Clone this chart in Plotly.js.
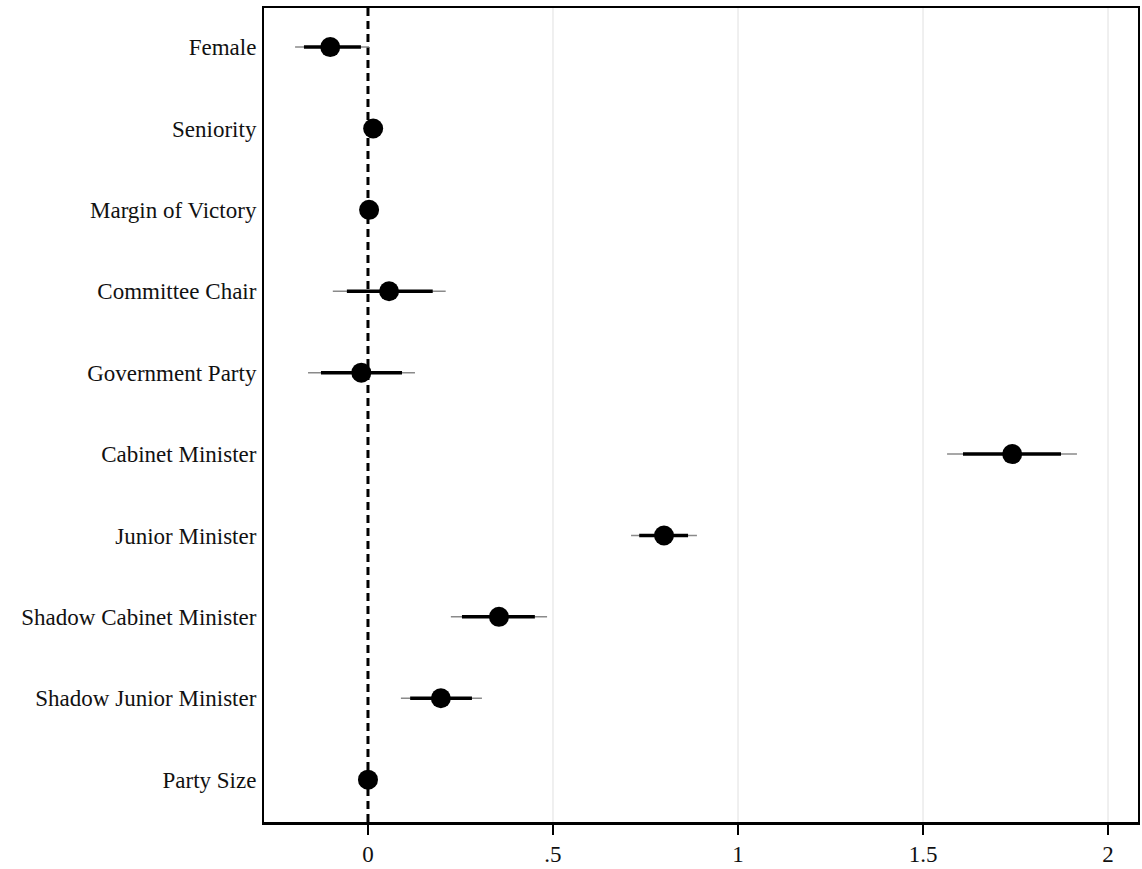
<!DOCTYPE html>
<html>
<head>
<meta charset="utf-8">
<script src="https://cdn.plot.ly/plotly-3.0.1.min.js"></script>
<style>html,body{margin:0;padding:0;background:#fff;}#chart{width:1142px;height:869px;}</style>
</head>
<body>
<div id="chart"></div>
<script>
const categories = ["Female","Seniority","Margin of Victory","Committee Chair","Government Party","Cabinet Minister","Junior Minister","Shadow Cabinet Minister","Shadow Junior Minister","Party Size"];
const estimates = [-0.102, 0.014, 0.003, 0.057, -0.018, 1.741, 0.800, 0.354, 0.197, 0.000];
const lo90 = [-0.173, 0.008, -0.002, -0.057, -0.127, 1.608, 0.733, 0.254, 0.114, -0.004];
const hi90 = [-0.019, 0.020, 0.008, 0.175, 0.092, 1.873, 0.865, 0.451, 0.281, 0.004];
const lo95 = [-0.197, 0.005, -0.004, -0.095, -0.162, 1.565, 0.711, 0.224, 0.089, -0.006];
const hi95 = [0.003, 0.023, 0.010, 0.210, 0.127, 1.916, 0.889, 0.484, 0.308, 0.006];
const xTickVals = [0, 0.5, 1, 1.5, 2];
const xTickText = ["0", ".5", "1", "1.5", "2"];
const gridVals = [0.5, 1, 1.5, 2];
const refValue = 0;

function segs(lo, hi) {
  const xs = [], ys = [];
  categories.forEach((c, i) => { xs.push(lo[i], hi[i], null); ys.push(c, c, null); });
  return {xs, ys};
}
const s95 = segs(lo95, hi95);
const s90 = segs(lo90, hi90);

const font = "'Liberation Serif', 'DejaVu Serif', serif";

const traces = [
  {type:"scatter", mode:"lines", x:s95.xs, y:s95.ys, line:{color:"#8a8a8a", width:1.5}, hoverinfo:"skip", showlegend:false},
  {type:"scatter", mode:"lines", x:s90.xs, y:s90.ys, line:{color:"#000", width:3.5}, hoverinfo:"skip", showlegend:false},
  {type:"scatter", mode:"markers", x:estimates, y:categories, marker:{color:"#000", size:20}, showlegend:false}
];

const shapes = gridVals.map(v => ({type:"line", xref:"x", yref:"paper", x0:v, x1:v, y0:0, y1:1,
  line:{color:"#e0e0e0", width:1}, layer:"below"}));
shapes.push({type:"line", xref:"x", yref:"paper", x0:refValue, x1:refValue, y0:0, y1:1,
  line:{color:"#000", width:3, dash:"8px,5px"}, layer:"below"});

const layout = {
  width:1142, height:869,
  margin:{l:264, r:4, t:8, b:47},
  paper_bgcolor:"#fff", plot_bgcolor:"#fff",
  font:{family:font, color:"#111", size:23},
  xaxis:{
    range:[-0.281, 2.081], tickvals:xTickVals, ticktext:xTickText,
    showgrid:false, zeroline:false,
    showline:true, linecolor:"#000", linewidth:2.5, mirror:true,
    ticks:"outside", ticklen:10, tickwidth:1.5, tickcolor:"#000",
    tickfont:{family:font, size:23, color:"#111"}
  },
  yaxis:{
    type:"category", categoryorder:"array", categoryarray:categories,
    range:[9.52, -0.48], showgrid:false, zeroline:false,
    showline:true, linecolor:"#000", linewidth:2, mirror:true,
    ticks:"", ticklabelstandoff:1,
    tickfont:{family:font, size:23, color:"#111"}
  },
  shapes: shapes
};

Plotly.newPlot("chart", traces, layout, {displayModeBar:false, staticPlot:true});
</script>
</body>
</html>
